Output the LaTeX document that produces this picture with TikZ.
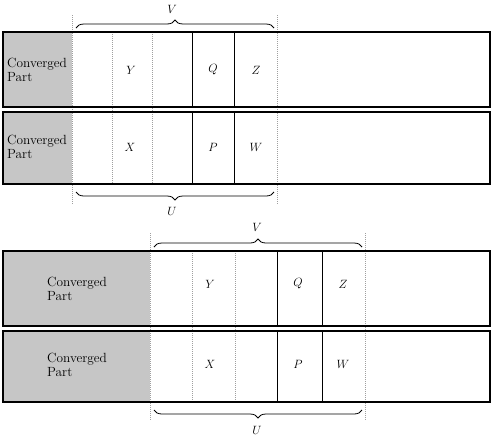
\documentclass[tikz,border=0pt]{standalone}
\usetikzlibrary{decorations.pathreplacing}
\begin{document}
\begin{tikzpicture}[x=1pt,y=-1pt,
 box/.style={draw=black,line width=1.1pt},
 conv/.style={fill=gray!45},
 sep/.style={line width=0.8pt},
 dots/.style={draw=gray!75,line width=0.5pt,dash pattern=on 1pt off 1pt},
 lab/.style={font=\fontsize{13.3}{13.5}\selectfont, align=left, inner sep=0pt, anchor=west},
 var/.style={font=\fontsize{13}{13}\selectfont, inner sep=0pt},
 brc/.style={decorate,decoration={brace,amplitude=8pt},line width=0.8pt}]
\useasboundingbox (0,0) rectangle (497,437);
% ---------- top diagram ----------
\fill[conv] (3,32) rectangle (72,107);
\fill[conv] (3,112) rectangle (72,184);
\draw[dots] (72,15) -- (72,205);
\draw[dots] (277,15) -- (277,205);
\draw[dots] (112,32) -- (112,184);
\draw[dots] (152,32) -- (152,184);
\draw[sep] (192,32) -- (192,107) (234,32) -- (234,107);
\draw[sep] (192,112) -- (192,184) (234,112) -- (234,184);
\draw[box] (3,32) rectangle (490,107);
\draw[box] (3,112) rectangle (490,184);
\node[lab] (c1) at (7,70) {Converged\\Part};
\node[lab] (c2) at (7,147) {Converged\\Part};
\node[var] (y1) at (131,70) {$Y$};
\node[var] (q1) at (213,70) {$Q$};
\node[var] (z1) at (256,70) {$Z$};
\node[var] (x1) at (130,147) {$X$};
\node[var] (p1) at (213,147) {$P$};
\node[var] (w1) at (256,147) {$W$};
\draw[brc] (76,28) -- (274,28);
\node[var] (v1) at (172,9) {$V$};
\draw[brc] (274,192) -- (76,192);
\node[var] (u1) at (172,211) {$U$};
% ---------- bottom diagram ----------
\fill[conv] (3,251) rectangle (150,326);
\fill[conv] (3,331) rectangle (150,402);
\draw[dots] (150,233) -- (150,420);
\draw[dots] (365,233) -- (365,420);
\draw[dots] (192,251) -- (192,402);
\draw[dots] (235,251) -- (235,402);
\draw[sep] (277,251) -- (277,326) (322,251) -- (322,326);
\draw[sep] (277,331) -- (277,402) (322,331) -- (322,402);
\draw[box] (3,251) rectangle (490,326);
\draw[box] (3,331) rectangle (490,402);
\node[lab] (c3) at (47,289) {Converged\\Part};
\node[lab] (c4) at (47,365) {Converged\\Part};
\node[var] (y2) at (210,284) {$Y$};
\node[var] (q2) at (298,284) {$Q$};
\node[var] (z2) at (343,284) {$Z$};
\node[var] (x2) at (210,364) {$X$};
\node[var] (p2) at (298,364) {$P$};
\node[var] (w2) at (343,364) {$W$};
\draw[brc] (154,247) -- (362,247);
\node[var] (v2) at (257,227) {$V$};
\draw[brc] (362,410) -- (154,410);
\node[var] (u2) at (257,430) {$U$};
\end{tikzpicture}
\end{document}
